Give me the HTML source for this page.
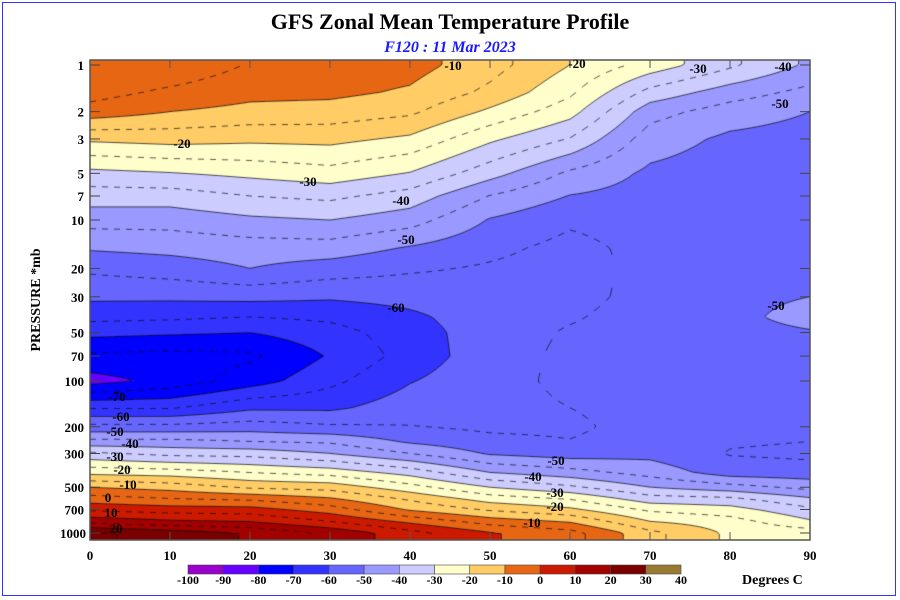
<!DOCTYPE html>
<html><head><meta charset="utf-8"><style>
body{margin:0;width:900px;height:600px;background:#fff;overflow:hidden;position:relative;font-family:"Liberation Serif",serif}
#frame{position:absolute;left:2px;top:2px;width:894px;height:594px;border:1px solid #3333ff;box-sizing:border-box}
canvas{position:absolute;left:90px;top:60px}
svg{position:absolute;left:0;top:0}
</style></head><body>
<div id="frame"></div>
<canvas id="cv" width="720" height="480"></canvas>
<svg id="ov" width="900" height="600">
<text x="450" y="29" text-anchor="middle" font-size="22" font-weight="bold">GFS Zonal Mean Temperature Profile</text>
<text x="450" y="52" text-anchor="middle" font-size="16" font-weight="bold" font-style="italic" fill="#1a1aff">F120 : 11 Mar 2023</text>
<text transform="translate(40,300) rotate(-90)" text-anchor="middle" font-size="14" font-weight="bold">PRESSURE *mb</text>
<text x="742" y="584" font-size="14" font-weight="bold">Degrees C</text>
<g id="axes"></g><g id="labels" font-size="13" font-weight="bold"></g><g id="legend"></g>
</svg>
<script>
// ---- data ----
const lats = [0,10,20,30,40,50,60,70,80,90];
const pressures = [1,1.5,2,3,5,7,10,15,20,30,40,50,70,100,150,200,250,300,400,500,600,700,850,1000];
const t0  = [-1,-3,-7,-19,-31.5,-37.5,-43,-49.5,-54,-59,-63.5,-68.5,-76,-82,-65.5,-53.5,-43.5,-34,-21.5,-10,-2.5,4,14,26];
const t10 = [-1,-6,-10,-18,-30.3,-37.5,-43,-48.6,-52.6,-59,-64,-69.3,-76.5,-78.5,-65.5,-53.5,-43.5,-36.5,-22.5,-12,-4.5,2.5,11.5,23];
const t20 = [-5.4,-8.5,-11.5,-18.8,-28.7,-35,-41,-47.5,-50,-58.5,-65,-70,-76,-72.5,-61,-52.5,-45,-37,-25,-15.8,-5.7,2,10.5,19.5];
const t30 = [-7,-8.8,-12,-18.5,-26.9,-33.8,-40,-47.3,-52.4,-59.3,-63.9,-67,-69.5,-66.3,-61,-54.2,-45.8,-40,-27,-17,-9,-2.6,5.6,14];
const t40 = [-8,-10.7,-14,-21,-30.3,-37.1,-42.8,-50.6,-54.3,-58.3,-61,-62.3,-63,-60.3,-57.3,-54.8,-50.8,-45,-32,-23,-15.6,-10.7,-0.6,6.9];
const t50 = [-13,-16.2,-21,-29,-38,-45.2,-50.4,-53.8,-55.6,-57,-57.3,-57.3,-57,-56.5,-56.5,-56,-53.6,-50.6,-40,-30,-22,-15.8,-6.7,0.5];
const t60 = [-20,-24,-28,-35.3,-46,-50.2,-54.2,-56.5,-57,-56.5,-55.5,-54.5,-54,-54,-55,-56,-54.8,-52.5,-43,-34,-25,-19,-10,-3];
const t70 = [-27,-36.7,-43,-47.6,-51,-52,-53,-53.5,-53.5,-53.5,-53,-53,-53,-53,-53,-53,-52.5,-51.5,-47,-40,-32.5,-26,-19.5,-13.5];
const t80 = [-34,-42.5,-47.5,-51,-52.5,-52.5,-52.5,-52.5,-52,-51.5,-51.5,-52,-52.5,-53,-53.5,-54,-54.5,-55.3,-52.5,-43,-33.5,-28,-22.5,-21];
const t90 = [-41,-46.5,-50,-52,-53,-53,-52.5,-52,-51.5,-50,-48,-50.5,-52,-53,-53.5,-54,-55,-56,-53,-46.5,-39,-34,-29,-22];
const levels = [-100,-90,-80,-70,-60,-50,-40,-30,-20,-10,0,10,20,30,40];
const bandColors = ["#9900cc","#6600ff","#0000ff","#3333ff","#6666ff","#9999ff","#ccccff","#ffffcc","#ffcc66","#e66614","#cc1a00","#a30000","#7a0000","#997a33"];
const xTicks = [0,10,20,30,40,50,60,70,80,90];
const yTicks = [1,2,3,5,7,10,20,30,50,70,100,200,300,500,700,1000];
const cols = [t0,t10,t20,t30,t40,t50,t60,t70,t80,t90];

// ---- scales ----
const X0=90,X1=810,Y0=60,Y1=540;
function xOf(lat){return X0+(lat-lats[0])/(lats[lats.length-1]-lats[0])*(X1-X0);}
function yOf(p){const l=Math.log10(p);if(l<=1)return 65+155*l;if(l<=2)return 220+161*(l-1);return 381+152*(l-2);}
const rowY=pressures.map(yOf);
function field(x,y){
  let f=(x-X0)/(X1-X0)*(lats.length-1); if(f<0)f=0; if(f>lats.length-1.0001)f=lats.length-1.0001;
  const i=Math.floor(f),fx=f-i;
  let j=0,fy=0;
  if(y<=rowY[0]){j=0;fy=0;} else if(y>=rowY[rowY.length-1]){j=rowY.length-2;fy=1;}
  else{while(rowY[j+1]<y)j++;fy=(y-rowY[j])/(rowY[j+1]-rowY[j]);}
  const a=cols[i][j],b=cols[i+1][j],c=cols[i][j+1],d=cols[i+1][j+1];
  return (a*(1-fx)+b*fx)*(1-fy)+(c*(1-fx)+d*fx)*fy;
}
function hex(c){return [parseInt(c.substr(1,2),16),parseInt(c.substr(3,2),16),parseInt(c.substr(5,2),16)];}
const rgb=bandColors.map(hex);
// ---- fill ----
const cv=document.getElementById('cv'),ctx=cv.getContext('2d');
const img=ctx.createImageData(720,480);
for(let py=0;py<480;py++){for(let px=0;px<720;px++){
  const t=field(X0+px+0.5,Y0+py+0.5);
  let k=Math.floor((t-levels[0])/10);k=Math.max(0,Math.min(bandColors.length-1,k));
  const o=(py*720+px)*4,c=rgb[k];img.data[o]=c[0];img.data[o+1]=c[1];img.data[o+2]=c[2];img.data[o+3]=255;}}
ctx.putImageData(img,0,0);
// ---- contour lines (marching squares) ----
const S=2,NX=360,NY=240,G=[];
for(let j=0;j<=NY;j++){G[j]=[];for(let i=0;i<=NX;i++)G[j][i]=field(X0+i*S,Y0+j*S);}
ctx.lineWidth=0.8;
for(let lv=-85;lv<=35;lv+=5){
  const solid=(lv%10===0);
  ctx.strokeStyle=solid?"rgba(15,15,15,0.9)":"rgba(10,10,10,0.85)";
  ctx.beginPath();
  for(let j=0;j<NY;j++)for(let i=0;i<NX;i++){
    const v=[G[j][i],G[j][i+1],G[j+1][i+1],G[j+1][i]];
    const P=[[i,j],[i+1,j],[i+1,j+1],[i,j+1]];const pts=[];
    for(let e=0;e<4;e++){const a=v[e],b=v[(e+1)%4];
      if((a<lv)!==(b<lv)){const t=(lv-a)/(b-a);const p1=P[e],p2=P[(e+1)%4];
        pts.push([(p1[0]+(p2[0]-p1[0])*t)*S,(p1[1]+(p2[1]-p1[1])*t)*S]);}}
    for(let q=0;q+1<pts.length;q+=2){
      if(!solid){const mx=(pts[q][0]+pts[q+1][0])/2;if(Math.floor(mx/6)%2===1)continue;}
      ctx.moveTo(pts[q][0],pts[q][1]);ctx.lineTo(pts[q+1][0],pts[q+1][1]);}
  }
  ctx.stroke();
}
// ---- axes ----
const NS="http://www.w3.org/2000/svg";
const axes=document.getElementById('axes');
function mk(tag,attrs,parent){const e=document.createElementNS(NS,tag);for(const k in attrs)e.setAttribute(k,attrs[k]);parent.appendChild(e);return e;}
const border=mk('rect',{x:X0,y:Y0,width:X1-X0,height:Y1-Y0,fill:'none',stroke:'#555','stroke-width':1.5},axes);


xTicks.forEach(v=>{
  const x=xOf(v);
  const t1=mk('line',{x1:x,x2:x,y1:Y1,y2:Y1-8,stroke:'#555','stroke-width':1},axes);
  
  
  const t2=mk('line',{x1:x,x2:x,y1:Y0,y2:Y0+8,stroke:'#555','stroke-width':1},axes);
  
  
  const tx=mk('text',{x:x,y:560,'text-anchor':'middle','font-size':13,'font-weight':'bold'},axes);tx.textContent=v;
  
  
});
yTicks.forEach(v=>{
  const y=yOf(v);
  const t1=mk('line',{x1:X0,x2:X0+10,y1:y,y2:y,stroke:'#444','stroke-width':1},axes);
  
  
  const t2=mk('line',{x1:X1,x2:X1-10,y1:y,y2:y,stroke:'#444','stroke-width':1},axes);
  
  
  const tx=mk('text',{x:v===1000?86:84,y:y+5,'text-anchor':'end','font-size':13,'font-weight':'bold'},axes);tx.textContent=v;
  
  
});
// ---- contour labels ----
const labTxt=["-10","-20","-30","-40","-50","-20","-30","-40","-50","-60","-50","-70","-60","-50","-40","-30","-20","-10","0","10","20","-50","-40","-30","-20","-10"];
const labPos=[[453,70],[577,68],[698,73],[783,71],[780,108],[182,148],[308,186],[401,205],[406,244],[396,312],[776,310],[117,401],[121,421],[115,436],[130,448],[115,461],[122,474],[128,489],[108,502],[111,517],[116,533],[556,465],[533,481],[555,497],[555,511],[532,527]];
const lg=document.getElementById('labels');
labTxt.forEach((s,i)=>{const t=mk('text',{x:labPos[i][0],y:labPos[i][1],'text-anchor':'middle'},lg);t.textContent=s;
  
  });
// ---- legend ----
const leg=document.getElementById('legend');
const LX0=188,LX1=681,bw=(LX1-LX0)/bandColors.length;
bandColors.forEach((c,i)=>{const r=mk('rect',{x:LX0+i*bw,y:565,width:bw,height:9,fill:c,stroke:'#444','stroke-width':0.6},leg);
  
  });
levels.forEach((v,i)=>{const t=mk('text',{x:LX0+i*bw,y:584,'text-anchor':'middle','font-size':12,'font-weight':'bold'},leg);t.textContent=v;
  
  });
</script>
</body></html>
